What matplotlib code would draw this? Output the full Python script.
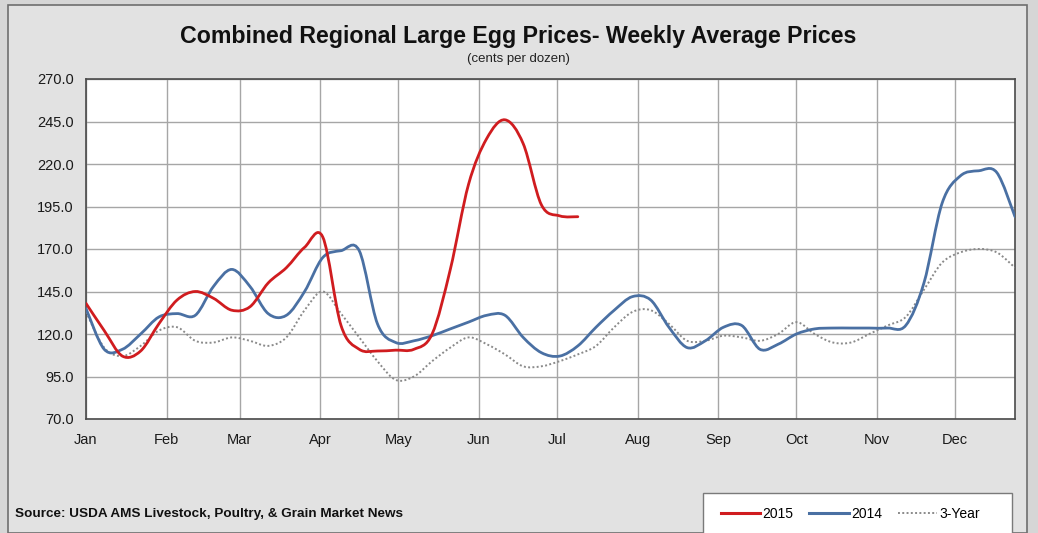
import numpy as np
import matplotlib.pyplot as plt
from matplotlib.path import Path
from matplotlib.patches import PathPatch, Rectangle
from matplotlib.lines import Line2D

plt.rcParams['font.family'] = ['Liberation Sans', 'DejaVu Sans']

# weekly data, x = day of year
days_all = np.arange(0, 358, 7)
months = ['Jan', 'Feb', 'Mar', 'Apr', 'May', 'Jun', 'Jul', 'Aug', 'Sep', 'Oct', 'Nov', 'Dec']
month_start = [0, 31, 59, 90, 120, 151, 181, 212, 243, 273, 304, 334]

price_2014 = [135, 111, 111, 120, 130, 132, 131, 148, 158, 148, 132, 131, 145,
              165, 169, 169, 126, 115, 116, 119, 123, 127, 131, 131, 118, 109,
              107, 113, 124, 134, 142, 140, 124, 112, 116, 124, 125, 111, 114,
              120, 123, 123.5, 123.5, 123.5, 123.5, 125, 150, 197, 213, 216, 215, 189]
price_3yr = [133, 112, 107, 113, 122, 124, 116, 115, 118, 116, 113, 118, 134,
             145, 132, 118, 104, 93, 95, 104, 112, 118, 114, 108, 101, 101,
             104, 108, 113, 124, 133, 134, 126, 116, 116, 119, 118, 116, 120,
             127, 120, 115, 115, 120, 125, 130, 146, 162, 168, 170, 168, 159]
price_2015 = [138, 122, 107, 110, 126, 140, 145, 141, 134, 136, 150, 159, 171,
              177, 125, 111, 110, 110.5, 111, 120, 158, 208, 235, 246, 232, 196,
              189.5, 189]
days_2015 = days_all[:len(price_2015)]

yticks = np.arange(70, 271, 25)


def smooth_path(x, y):
    # Excel-style smoothed line: cubic bezier through each point
    x = np.asarray(x, float)
    y = np.asarray(y, float)
    n = len(x)
    verts = [(x[0], y[0])]
    codes = [Path.MOVETO]
    for i in range(n - 1):
        xm, ym = (x[i - 1], y[i - 1]) if i > 0 else (x[i], y[i])
        xp, yp = (x[i + 2], y[i + 2]) if i + 2 < n else (x[i + 1], y[i + 1])
        c1 = (x[i] + (x[i + 1] - xm) / 6, y[i] + (y[i + 1] - ym) / 6)
        c2 = (x[i + 1] - (xp - x[i]) / 6, y[i + 1] - (yp - y[i]) / 6)
        verts += [c1, c2, (x[i + 1], y[i + 1])]
        codes += [Path.CURVE4] * 3
    return Path(verts, codes)


fig = plt.figure(figsize=(10.38, 5.33), dpi=100)
fig.patch.set_facecolor('#d6d6d6')
fig.patches.append(Rectangle((8 / 1038, 0), 1019 / 1038, 1 - 5 / 533,
                             transform=fig.transFigure, facecolor='#e2e2e2',
                             edgecolor='#6e6e6e', linewidth=1.2, zorder=-2))

ax = fig.add_axes([86 / 1038, 1 - 419 / 533, 929 / 1038, 340 / 533])
ax.set_zorder(2)
ax.set_facecolor('white')
ax.set_xlim(0, 357)
ax.set_ylim(70, 270)
ax.set_xticks(month_start)
ax.set_xticklabels(months)
ax.set_yticks(yticks)
ax.set_yticklabels(['%.1f' % v for v in yticks])
ax.tick_params(length=0, labelsize=10.5, colors='#1a1a1a')
ax.tick_params(axis='x', pad=10)
ax.tick_params(axis='y', pad=9)
ax.grid(True, color='#a6a6a6', linewidth=1.0)
ax.set_axisbelow(True)
for s in ax.spines.values():
    s.set_color('#4a4a4a')
    s.set_linewidth(1.2)

c2015 = '#d01c1f'
c2014 = '#4a70a3'
c3yr = '#8a8a8a'

ax.add_patch(PathPatch(smooth_path(days_all, price_3yr), fill=False, edgecolor=c3yr,
                       linewidth=1.4, linestyle=(0, (1, 1.2)), zorder=3))
ax.add_patch(PathPatch(smooth_path(days_all, price_2014), fill=False, edgecolor=c2014,
                       linewidth=2.0, zorder=4, capstyle='round'))
ax.add_patch(PathPatch(smooth_path(days_2015, price_2015), fill=False, edgecolor=c2015,
                       linewidth=2.0, zorder=5, capstyle='round'))

fig.text(518 / 1038, 1 - 36 / 533, 'Combined Regional Large Egg Prices- Weekly Average Prices',
         ha='center', va='center', fontsize=16.7, fontweight='bold', color='#111111')
fig.text(518 / 1038, 1 - 59 / 533, '(cents per dozen)', ha='center', va='center',
         fontsize=9.5, color='#222222')
fig.text(15 / 1038, 1 - 514 / 533, 'Source: USDA AMS Livestock, Poultry, & Grain Market News',
         ha='left', va='center', fontsize=9.7, fontweight='bold', color='#111111')

# legend box
fig.patches.append(Rectangle((703 / 1038, -0.01), 309 / 1038, 0.01 + 1 - 493 / 533,
                             transform=fig.transFigure, facecolor='white',
                             edgecolor='#7a7a7a', linewidth=1.0, zorder=1))
handles = [Line2D([], [], color=c2015, lw=2.2),
           Line2D([], [], color=c2014, lw=2.2),
           Line2D([], [], color=c3yr, lw=1.4, linestyle=(0, (1, 1.2)))]
fig.legend(handles, ['2015', '2014', '3-Year'], loc='center left',
           bbox_to_anchor=(708 / 1038, 1 - 514 / 533), ncol=3, frameon=False,
           fontsize=10, handlelength=2.85, handletextpad=0.15, columnspacing=1.15)

fig.savefig('out.png', dpi=100, facecolor=fig.get_facecolor())
